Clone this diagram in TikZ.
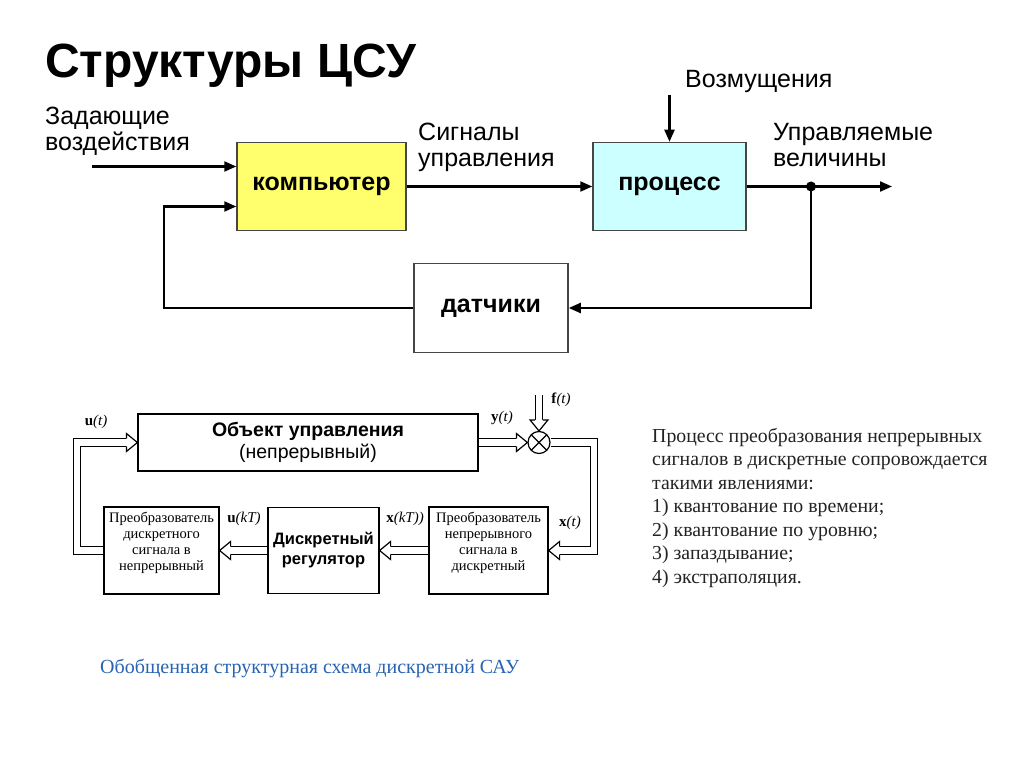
\documentclass[tikz,border=0pt]{standalone}
\usepackage{fontspec}
\setmainfont{Liberation Serif}
\setsansfont{Liberation Sans}
\usetikzlibrary{arrows.meta}

\definecolor{compyellow}{RGB}{255,255,110}
\definecolor{proccyan}{RGB}{204,255,255}
\definecolor{boxgray}{RGB}{70,70,70}
\definecolor{captionblue}{RGB}{40,100,178}
\definecolor{textgray}{RGB}{35,35,35}

\tikzset{
  blk/.style = {draw=boxgray, line width=1.5pt, inner sep=0pt, font=\sffamily\bfseries\fontsize{25}{26}\selectfont},
  sig/.style = {line width=2.2pt, -{Triangle[length=12pt,width=10pt]}},
  lbl/.style = {inner sep=0pt, align=left, font=\sffamily\fontsize{25}{26}\selectfont},
  box/.style = {draw, line width=1.2pt, inner sep=0pt, align=center},
  conv/.style = {box, minimum height=87pt},
  convtxt/.style = {align=center, inner sep=0pt, yshift=8pt, font=\fontsize{14.5}{16}\selectfont},
  dbl/.style = {double, double distance=6.4pt, line width=1.2pt, shorten >=11pt},
  hhead/.pic = {
    \fill[white] (-11pt,-9pt) -- (0pt,0pt) -- (-11pt,9pt) -- cycle;
    \draw[line width=1.2pt, line join=miter] (-11pt,3.8pt) -- (-11pt,9pt) -- (0pt,0pt) -- (-11pt,-9pt) -- (-11pt,-3.8pt);
  },
  var/.style = {inner sep=0pt, font=\fontsize{15}{17}\selectfont}
}

\begin{document}
\begin{tikzpicture}[x=1pt, y=-1pt]
\useasboundingbox[fill=white] (0,0) rectangle (1024,767);

% title
\node[anchor=base west, inner sep=0pt, font=\sffamily\bfseries\fontsize{48}{50}\selectfont] (title) at (45,78) {Структуры ЦСУ};

% upper scheme
\node[blk, fill=compyellow, minimum width=169pt, minimum height=88pt] (comp) at (321.5,186.5) {компьютер};
\node[blk, fill=proccyan, minimum width=153pt, minimum height=88pt] (proc) at (669.5,186.5) {процесс};
\node[blk, fill=white, minimum width=154pt, minimum height=89pt] (datch) at (491,308) {датчики};

\node[lbl, anchor=north west] (setp) at (45,107) {Задающие\\воздействия};
\node[lbl, anchor=north west] (ctrl) at (418,123) {Сигналы\\управления};
\node[lbl, anchor=north west] (outv) at (773,123) {Управляемые\\величины};
\node[lbl, anchor=base west] (dist) at (685,88) {Возмущения};

\coordinate (in) at (92,166.5);
\coordinate (out) at (892,186.5);
\coordinate (disttop) at (669.5,95);
\coordinate (fbk) at (164,206.5);
\node[circle, fill, inner sep=0pt, minimum size=10pt] (tap) at (811,186.5) {};

\draw[sig] (in) -- ([yshift=20pt]comp.west);
\draw[sig] (comp) -- (proc);
\draw[sig] (disttop) -- (proc.north);
\draw[sig] (proc.east) -- (out);
\draw[sig] (tap.center) |- (datch.east);
\draw[sig] (datch.west) -| (fbk) -- ([yshift=-20pt]comp.west);

% lower scheme
\node[box, minimum width=340pt, minimum height=57pt, font=\sffamily\fontsize{19.5}{22}\selectfont] (obj) at (308,442.5) {\textbf{Объект управления}\\(непрерывный)};
\node[circle, draw, line width=1.2pt, minimum size=22pt, inner sep=0pt,
  path picture={\draw[line width=1.2pt] (path picture bounding box.north west) -- (path picture bounding box.south east)
    (path picture bounding box.north east) -- (path picture bounding box.south west);}] (sum) at (539,442.5) {};
\node[conv, minimum width=115pt, label={[convtxt]center:{Преобразователь\\дискретного\\сигнала в\\непрерывный}}] (dac) at (161.5,550.5) {};
\node[box, minimum width=111pt, minimum height=86pt, font=\sffamily\bfseries\fontsize{16.5}{20}\selectfont] (reg) at (323.5,550.5) {Дискретный\\регулятор};
\node[conv, minimum width=119pt, label={[convtxt]center:{Преобразователь\\непрерывного\\сигнала в\\дискретный}}] (adc) at (488.5,550.5) {};

\coordinate (ftop) at (539,395);
\coordinate (lft) at (77,442.5);
\coordinate (rgt) at (594,550.5);

\draw[dbl] (dac.west) -| (lft) -- (obj.west);
\pic at (obj.west) {hhead};
\draw[dbl] (obj.east) -- (sum.west);
\pic at (sum.west) {hhead};
\draw[dbl] (ftop) -- (sum.north);
\pic[rotate=-90] at (sum.north) {hhead};
\draw[dbl] (sum.east) -| (rgt) -- (adc.east);
\pic[rotate=180] at (adc.east) {hhead};
\draw[dbl] (adc.west) -- (reg.east);
\pic[rotate=180] at (reg.east) {hhead};
\draw[dbl] (reg.west) -- (dac.east);
\pic[rotate=180] at (dac.east) {hhead};

\node[var] (ut) at (96,422) {\textbf{u}\textit{(t)}};
\node[var] (yt) at (502,418) {\textbf{y}\textit{(t)}};
\node[var] (ft) at (561,400) {\textbf{f}\textit{(t)}};
\node[var] (ukt) at (244,519) {\textbf{u}\textit{(kT)}};
\node[var] (xkt) at (405,519) {\textbf{x}\textit{(kT))}};
\node[var] (xt) at (570,523) {\textbf{x}\textit{(t)}};

% notes
\node[anchor=north west, inner sep=0pt, align=left, text=textgray, font=\fontsize{19.8}{23.5}\selectfont] (note) at (652,428)
  {Процесс преобразования непрерывных\\сигналов в дискретные сопровождается\\такими явлениями:\\1) квантование по времени;\\2) квантование по уровню;\\3) запаздывание;\\4) экстраполяция.};
\node[anchor=west, inner sep=0pt, text=captionblue, font=\fontsize{20}{22}\selectfont] (caption) at (100,668) {Обобщенная структурная схема дискретной САУ};
\end{tikzpicture}
\end{document}
